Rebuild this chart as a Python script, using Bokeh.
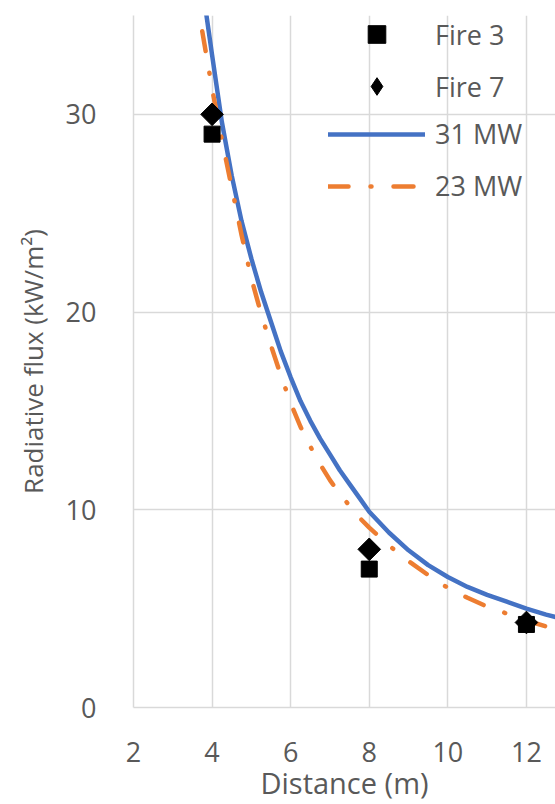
from bokeh.plotting import figure
from bokeh.models import Range1d, Legend, LegendItem
from bokeh.embed import file_html
from bokeh.resources import INLINE
import math

# Measured radiative flux (kW/m2) at the gauge distances (m)
distance_m = [4, 8, 12]
fire3_flux = [29.0, 7.0, 4.2]
fire7_flux = [30.0, 8.0, 4.3]

# Predicted flux curves for two heat release rates
dist_31mw = [3.85, 4.0, 4.25, 4.5, 4.75, 5.0, 5.25, 5.5, 5.75, 6.0, 6.25, 6.5, 6.75,
             7.0, 7.25, 7.5, 7.75, 8.0, 8.5, 9.0, 9.5, 10.0, 10.5, 11.0, 11.5,
             12.0, 12.5, 13.0]
flux_31mw = [35.1, 33.0, 29.6, 26.9, 24.6, 22.7, 21.0, 19.5, 18.0, 16.7, 15.5, 14.5, 13.6,
             12.8, 12.0, 11.3, 10.6, 9.9, 8.85, 7.95, 7.2, 6.6, 6.1, 5.7, 5.35,
             5.0, 4.7, 4.45]

dist_23mw = [3.75, 4.0, 4.25, 4.5, 4.75, 5.0, 5.25, 5.5, 5.75, 6.0, 6.25, 6.5, 6.75,
             7.0, 7.25, 7.5, 7.75, 8.0, 8.5, 9.0, 9.5, 10.0, 10.5, 11.0, 11.5,
             12.0, 12.5, 13.0]
flux_23mw = [34.2, 31.3, 28.7, 26.3, 23.9, 21.7, 19.9, 18.3, 16.8, 15.4, 14.2, 13.2, 12.3,
             11.5, 10.8, 10.2, 9.6, 9.1, 8.2, 7.4, 6.7, 6.05, 5.55, 5.1, 4.75,
             4.4, 4.1, 3.8]

x_ticks = [2, 4, 6, 8, 10, 12]
y_ticks = [0, 10, 20, 30]

FONT = "Open Sans"
TEXT = "#595959"
GRID = "#D9D9D9"
BLUE = "#4472C4"
ORANGE = "#ED7D31"

p = figure(
    width=555, height=804,
    x_range=Range1d(2, 12.74), y_range=Range1d(0, 35),
    output_backend="svg", toolbar_location=None,
    min_border_left=133, min_border_right=0,
    min_border_top=15, min_border_bottom=96,
)
p.outline_line_color = None
p.background_fill_color = "white"
p.border_fill_color = "white"

p.xaxis.ticker = x_ticks
p.yaxis.ticker = y_ticks
for ax in (p.xaxis, p.yaxis):
    ax.major_tick_line_color = None
    ax.minor_tick_line_color = None
    ax.axis_line_color = GRID
    ax.axis_line_width = 1.5
    ax.major_label_text_font = FONT
    ax.major_label_text_font_size = "27px"
    ax.major_label_text_color = TEXT
    ax.axis_label_text_font = FONT
    ax.axis_label_text_font_style = "normal"
    ax.axis_label_text_color = TEXT

p.xaxis.axis_label = "Distance (m)"
p.xaxis.axis_label_text_font_size = "29px"
p.yaxis.axis_label = "Radiative flux (kW/m²)"
p.yaxis.axis_label_text_font_size = "26px"
p.xaxis.major_label_standoff = 28
p.xaxis.axis_label_standoff = -2
p.yaxis.major_label_standoff = 31
p.yaxis.axis_label_standoff = 12

p.xgrid.ticker = x_ticks
p.ygrid.ticker = y_ticks
p.grid.grid_line_color = GRID
p.grid.grid_line_width = 1.5

r31 = p.line(dist_31mw, flux_31mw, line_color=BLUE, line_width=4.5,
             line_cap="round", line_join="round")
r23 = p.line(dist_23mw, flux_23mw, line_color=ORANGE, line_width=4.5,
             line_dash="20 22 1 22", line_cap="round", line_join="round")
r3 = p.scatter(distance_m, fire3_flux, marker="square", size=16,
               fill_color="black", line_color="black")
# legend keys are drawn unrotated, so Fire 7 gets a diamond-marker key renderer
# that sits entirely underneath the rotated-square points
r7_key = p.scatter(distance_m, fire7_flux, marker="diamond", size=14,
                   fill_color="black", line_color="black")
r7 = p.scatter(distance_m, fire7_flux, marker="square", angle=math.pi / 4,
               size=16, fill_color="black", line_color="black")


def legend_box(label, renderer, loc, glyph_h):
    return Legend(
        items=[LegendItem(label=label, renderers=[renderer])],
        location=loc, orientation="vertical",
        glyph_width=97, glyph_height=glyph_h, label_standoff=10,
        padding=0, margin=0, spacing=0,
        background_fill_alpha=0, border_line_color=None,
        label_text_font=FONT, label_text_font_size="27px",
        label_text_color=TEXT,
    )


p.add_layout(legend_box("Fire 3", r3, (195, 651), 44))
p.add_layout(legend_box("Fire 7", r7_key, (195, 599), 44))
p.add_layout(legend_box("31 MW", r31, (195, 555), 30))
p.add_layout(legend_box("23 MW", r23, (195, 503), 30))

open("out.html", "w").write(file_html(p, INLINE))
